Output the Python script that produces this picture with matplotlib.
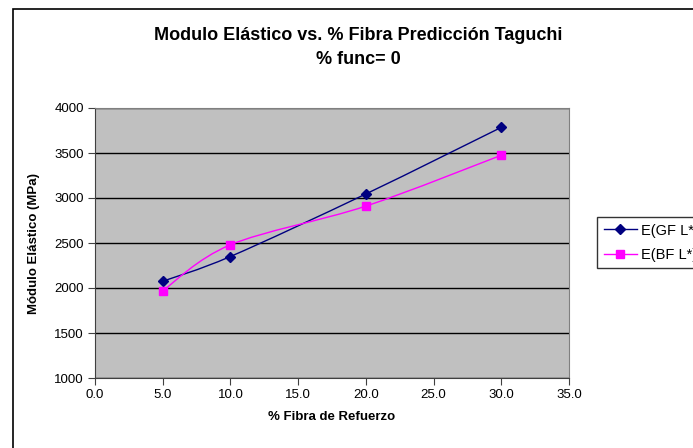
import matplotlib.pyplot as plt
import numpy as np
from matplotlib.path import Path
from matplotlib.patches import PathPatch, Rectangle
from matplotlib.lines import Line2D

plt.rcParams['font.family'] = ['Liberation Sans', 'DejaVu Sans']

fibra = [5, 10, 20, 30]
e_gf = [2075, 2350, 3045, 3785]
e_bf = [1970, 2480, 2910, 3475]
labels = ["E(GF L*)", "E(BF L*)"]
x_ticks = [0, 5, 10, 15, 20, 25, 30, 35]
y_ticks = [1000, 1500, 2000, 2500, 3000, 3500, 4000]


def smooth_path(xs, ys):
    # excel-style smoothed line: cubic bezier through the points
    pts = np.column_stack([xs, ys]).astype(float)
    verts = [pts[0]]
    codes = [Path.MOVETO]
    n = len(pts)
    for i in range(n - 1):
        p0 = pts[i - 1] if i > 0 else pts[i]
        p1 = pts[i]
        p2 = pts[i + 1]
        p3 = pts[i + 2] if i + 2 < n else pts[i + 1]
        c1 = p1 + (p2 - p0) / 6
        c2 = p2 - (p3 - p1) / 6
        verts += [c1, c2, p2]
        codes += [Path.CURVE4] * 3
    return Path(verts, codes)


fig = plt.figure(figsize=(6.93, 4.48), dpi=100)
ax = fig.add_axes([95 / 693, 1 - 378 / 448, 474 / 693, 270 / 448])
ax.set_facecolor('#C0C0C0')

for xs, ys, col, mk, ms in [(fibra, e_gf, '#000080', 'D', 5), (fibra, e_bf, '#FF00FF', 's', 6)]:
    ax.add_patch(PathPatch(smooth_path(xs, ys), facecolor='none', edgecolor=col, lw=1.0, zorder=3))
    ax.plot(xs, ys, linestyle='none', marker=mk, color=col, markersize=ms, zorder=4)

ax.set_xlim(0, 35)
ax.set_ylim(1000, 4000)
ax.set_xticks(x_ticks)
ax.set_xticklabels([f"{v:.1f}" for v in x_ticks])
ax.set_yticks(y_ticks)
ax.yaxis.grid(True, color='black', lw=1.0)
ax.set_axisbelow(True)
ax.tick_params(labelsize=9.5, length=5, direction='out', color='#404040', pad=3)
for s in ax.spines.values():
    s.set_color('#808080')
ax.spines['left'].set_color('#404040')
ax.spines['bottom'].set_color('#404040')

ax.set_xlabel("% Fibra de Refuerzo", fontsize=9.5, fontweight='bold', labelpad=7)
ax.set_ylabel("Módulo Elástico (MPa)", fontsize=9.5, fontweight='bold', labelpad=10)
fig.text(0.517, 1 - 35 / 448, "Modulo Elástico vs. % Fibra Predicción Taguchi",
         ha='center', va='center', fontsize=13, fontweight='bold')
fig.text(0.517, 1 - 60 / 448, "% func= 0", ha='center', va='center', fontsize=13, fontweight='bold')

# chart area border
fig.patches.append(Rectangle((13 / 693, -0.1), 1.2, 1.1 - 9 / 448, transform=fig.transFigure,
                             fill=False, edgecolor='black', lw=1.2))

handles = [Line2D([], [], color='#000080', marker='D', markersize=5, lw=1.0),
           Line2D([], [], color='#FF00FF', marker='s', markersize=6, lw=1.0)]
leg = fig.legend(handles, labels, loc='upper left', bbox_to_anchor=(597 / 693, 1 - 217 / 448),
                 fontsize=10.5, frameon=True, fancybox=False, borderpad=0.45, handlelength=2.3,
                 handletextpad=0.25, labelspacing=0.7, borderaxespad=0)
leg.get_frame().set_edgecolor('black')
leg.get_frame().set_linewidth(1.0)

fig.savefig('out.png', dpi=100)
